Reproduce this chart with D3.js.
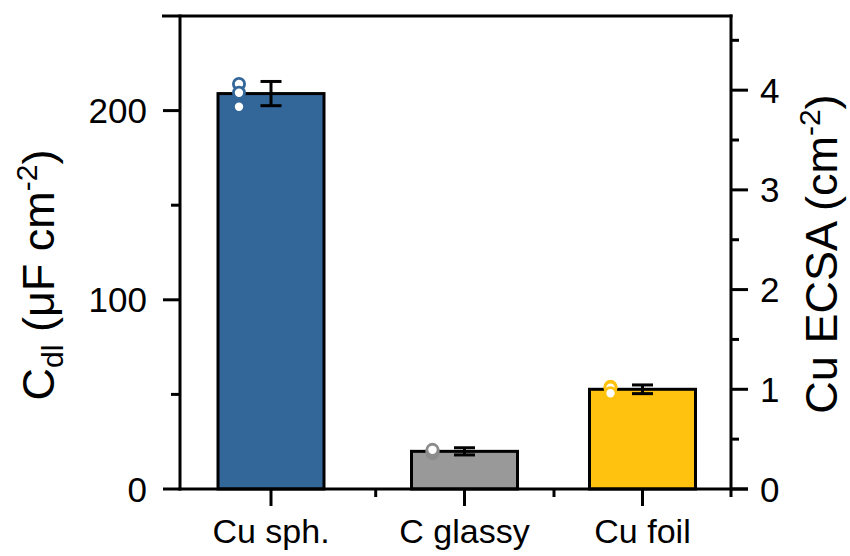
<!DOCTYPE html>
<html><head><meta charset="utf-8">
<script src="https://cdn.jsdelivr.net/npm/d3@7"></script>
<style>body{margin:0;background:#fff}svg{display:block}text{font-family:"Liberation Sans",Arial,sans-serif;fill:#000}</style>
</head><body>
<svg id="c" width="850" height="556"></svg>
<script>
const categories = ["Cu sph.", "C glassy", "Cu foil"];
const cdlMean = [209.0, 19.9, 52.7];
const cdlErr = [6.4, 1.9, 2.3];
const cdlPoints = [[214.1, 209.4, 202.0], [19.0, 20.0, 20.7], [54.0, 53.5, 50.6]];
const barColors = ["#336699", "#999999", "#FFC20E"];
const pointStroke = ["#336699", "#8c8c8c", "#FFC20E"];
const leftTicks = [0, 100, 200];
const leftMinor = [50, 150];
const rightTicks = [0, 1, 2, 3, 4];
const rightMinor = [0.5, 1.5, 2.5, 3.5, 4.5];
const ecsaRef = 52.7; // Cdl of Cu foil = 1 cm^-2 ECSA

const svg = d3.select("#c");
const L = 180, R = 731, T = 16, B = 489;
const y = d3.scaleLinear().domain([0, 250]).range([B, T]);
const yR = d3.scaleLinear().domain([0, 250 / ecsaRef]).range([B, T]);
const x = d3.scaleOrdinal().domain(categories).range([271, 464.5, 642.5]);
const xMinor = [375.7, 554];
const barW = 106;
const lw = 3;

// bars
svg.selectAll("rect.bar").data(categories).join("rect")
  .attr("x", d => x(d) - barW / 2).attr("width", barW)
  .attr("y", (d, i) => y(cdlMean[i])).attr("height", (d, i) => B - y(cdlMean[i]))
  .attr("fill", (d, i) => barColors[i]).attr("stroke", "#000").attr("stroke-width", lw);

// points
categories.forEach((c, i) => {
  svg.selectAll(null).data(cdlPoints[i]).join("circle")
    .attr("cx", x(c) - 32).attr("cy", d => y(d)).attr("r", 5.6)
    .attr("fill", "#fff").attr("stroke", pointStroke[i]).attr("stroke-width", 2.8);
});

// error bars
categories.forEach((c, i) => {
  const g = svg.append("g").attr("stroke", "#000").attr("stroke-width", lw).attr("fill", "none");
  const cx = x(c), hi = y(cdlMean[i] + cdlErr[i]), lo = y(cdlMean[i] - cdlErr[i]);
  g.append("line").attr("x1", cx).attr("x2", cx).attr("y1", hi).attr("y2", lo);
  g.append("line").attr("x1", cx - 10.5).attr("x2", cx + 10.5).attr("y1", hi).attr("y2", hi);
  g.append("line").attr("x1", cx - 10.5).attr("x2", cx + 10.5).attr("y1", lo).attr("y2", lo);
});

const ax = svg.append("g").attr("stroke", "#000").attr("stroke-width", lw).attr("fill", "none");
// frame lines
ax.append("line").attr("x1", 162).attr("x2", R + 1.5).attr("y1", T).attr("y2", T);
ax.append("line").attr("x1", L).attr("x2", L).attr("y1", T - 1.5).attr("y2", B + 1.5);
ax.append("line").attr("x1", L - 1.5).attr("x2", R + 17).attr("y1", B).attr("y2", B);
ax.append("line").attr("x1", R).attr("x2", R).attr("y1", T - 1.5).attr("y2", B + 8);

// axis ticks
leftTicks.forEach(v => ax.append("line").attr("x1", L - 17).attr("x2", L).attr("y1", y(v)).attr("y2", y(v)));
leftMinor.forEach(v => ax.append("line").attr("x1", L - 9).attr("x2", L).attr("y1", y(v)).attr("y2", y(v)));
rightTicks.forEach(v => ax.append("line").attr("x1", R).attr("x2", R + 17).attr("y1", yR(v)).attr("y2", yR(v)));
rightMinor.forEach(v => ax.append("line").attr("x1", R).attr("x2", R + 8).attr("y1", yR(v)).attr("y2", yR(v)));
categories.forEach(c => ax.append("line").attr("x1", x(c)).attr("x2", x(c)).attr("y1", B).attr("y2", B + 17));
xMinor.forEach(v => ax.append("line").attr("x1", v).attr("x2", v).attr("y1", B).attr("y2", B + 8));

const fs = 35;
svg.selectAll(null).data(leftTicks).join("text")
  .attr("x", L - 33).attr("y", d => y(d)).attr("dy", "0.36em").attr("text-anchor", "end")
  .attr("font-size", fs).text(d => d);
svg.selectAll(null).data(rightTicks).join("text")
  .attr("x", R + 29).attr("y", d => yR(d)).attr("dy", "0.36em").attr("text-anchor", "start")
  .attr("font-size", fs).text(d => d);
svg.selectAll(null).data(categories).join("text")
  .attr("x", d => x(d)).attr("y", 543).attr("text-anchor", "middle")
  .attr("font-size", 34).text(d => d);

// y titles
const tfs = 45, sfs = 30;
const tl = svg.append("text").attr("transform", "translate(54,275) rotate(-90)")
  .attr("text-anchor", "middle").attr("font-size", tfs);
tl.append("tspan").text("C");
tl.append("tspan").attr("font-size", sfs).attr("dy", 9).text("dl");
tl.append("tspan").attr("dy", -9).text(" (μF cm");
tl.append("tspan").attr("font-size", sfs).attr("dy", -17).text("-2");
tl.append("tspan").attr("dy", 17).text(")");

const tr = svg.append("text").attr("transform", "translate(837,254) rotate(-90)")
  .attr("text-anchor", "middle").attr("font-size", tfs);
tr.append("tspan").text("Cu ECSA (cm");
tr.append("tspan").attr("font-size", sfs).attr("dy", -17).text("-2");
tr.append("tspan").attr("dy", 17).text(")");
</script>
</body></html>
